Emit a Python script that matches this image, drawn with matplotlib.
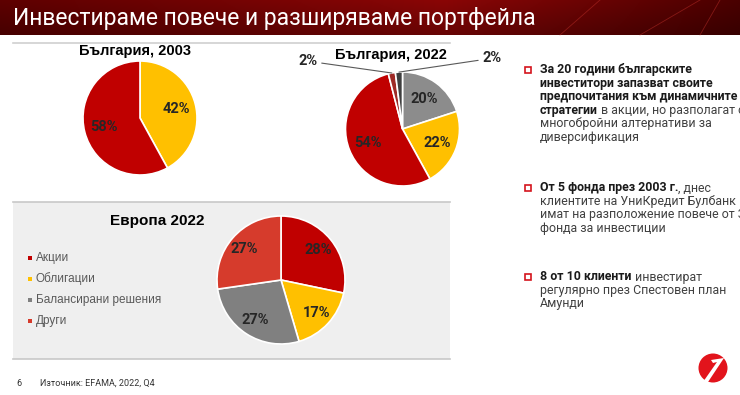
import numpy as np
import matplotlib
matplotlib.use("Agg")
import matplotlib.pyplot as plt
from matplotlib.patches import Rectangle, Circle, Polygon
from matplotlib.colors import to_rgb

W, H = 740, 395

# ---- data ----
title = "Инвестираме повече и разширяваме портфейла"

bg2003_title = "България, 2003"
bg2003_vals = [42, 58]
bg2003_cols = ["#FFC000", "#C00000"]

bg2022_title = "България, 2022"
bg2022_vals = [20, 22, 54, 2, 2]
bg2022_cols = ["#8C8C8C", "#FFC000", "#C00000", "#9E2A26", "#3F3F3F"]

eu_title = "Европа 2022"
eu_vals = [28, 17, 27, 27]
eu_cols = ["#C00000", "#FFC000", "#808080", "#D63B2C"]
legend_labels = ["Акции", "Облигации", "Балансирани решения", "Други"]

bullets = [
    [("За 20 години българските", ""),
     ("инвеститори запазват своите", ""),
     ("предпочитания към динамичните", ""),
     ("стратегии", "в акции, но разполагат с"),
     ("", "многобройни алтернативи за"),
     ("", "диверсификация")],
    [("От 5 фонда през 2003 г.", ", днес"),
     ("", "клиентите на УниКредит Булбанк"),
     ("", "имат на разположение повече от 30"),
     ("", "фонда за инвестиции")],
    [("8 от 10 клиенти", "инвестират"),
     ("", "регулярно през Спестовен план"),
     ("", "Амунди")],
]
bullet_top = [70, 188, 277]

source = "Източник: EFAMA, 2022, Q4"
page_no = "6"

TXT = ["Roboto", "DejaVu Sans"]
ARIAL = ["Liberation Sans", "DejaVu Sans"]

fig = plt.figure(figsize=(W / 100, H / 100), dpi=100)
renderer = fig.canvas.get_renderer()
bg = fig.add_axes([0, 0, 1, 1])
bg.set_xlim(0, W)
bg.set_ylim(H, 0)


def fit_size(text, width_px, weight="normal", family=TXT):
    # font size that makes `text` span width_px
    t = bg.text(0, 0, text, fontsize=10, fontweight=weight, family=family)
    w = t.get_window_extent(renderer).width
    t.remove()
    return 10 * width_px / w


# title banner gradient
xs = np.linspace(0, 1, 400)
left, mid, right = np.array(to_rgb("#5e0000")), np.array(to_rgb("#8a0606")), np.array(to_rgb("#4a0000"))
row = np.where(xs[:, None] < 0.6,
               left + (mid - left) * (xs[:, None] / 0.6),
               mid + (right - mid) * ((xs[:, None] - 0.6) / 0.4))
ys = np.linspace(0, 1, 40)[:, None, None]
grad = row[None, :, :] * (1.0 - 0.25 * ys)
bg.imshow(grad, extent=[0, W, 35, 0], aspect="auto", zorder=0)
for x0, x1 in [(640, 700), (700, 720), (560, 600)]:
    bg.plot([x0, x1], [35, 0], color="#c0302a", lw=0.6, alpha=0.5, zorder=1)
bg.text(13, 18, title, color="white", fontsize=fit_size(title, 524), family=TXT,
        va="center", ha="left")

# separators and grey box
bg.plot([13, 450], [43, 43], color="#d0d0d0", lw=1.2)
bg.add_patch(Rectangle((13, 202), 437, 157, facecolor="#efefef", edgecolor="none"))
bg.plot([13, 450], [202, 202], color="#c8c8c8", lw=1.2)
bg.plot([13, 450], [359, 359], color="#c8c8c8", lw=1.2)

bg.set_xlim(0, W)
bg.set_ylim(H, 0)
bg.axis("off")


def pie_axes(cx, cy, r):
    ax = fig.add_axes([(cx - r) / W, 1 - (cy + r) / H, 2 * r / W, 2 * r / H])
    return ax


def draw_pie(ax, vals, cols, pct_dist, show):
    wedges, _ = ax.pie(vals, colors=cols, startangle=90, counterclock=False,
                       wedgeprops=dict(edgecolor="white", linewidth=1.2))
    for w, v, s in zip(wedges, vals, show):
        if not s:
            continue
        a = np.deg2rad((w.theta1 + w.theta2) / 2)
        ax.text(pct_dist * np.cos(a), pct_dist * np.sin(a), f"{v}%", ha="center", va="center",
                fontsize=10.5, fontweight="bold", family=TXT, color="#262626")
    ax.set_xlim(-1, 1)
    ax.set_ylim(-1, 1)
    return wedges


# Bulgaria 2003
ax1 = pie_axes(140, 118, 57)
draw_pie(ax1, bg2003_vals, bg2003_cols, 0.66, [True, True])
bg.text(135, 51, bg2003_title, fontsize=10.5, fontweight="bold", family=ARIAL,
        ha="center", va="center", color="black")

# Bulgaria 2022
ax2 = pie_axes(402.5, 129, 57)
w2 = draw_pie(ax2, bg2022_vals, bg2022_cols, 0.65, [True, True, True, False, False])
bg.text(391, 55, bg2022_title, fontsize=10.5, fontweight="bold", family=ARIAL,
        ha="center", va="center", color="black")
for w, v, (tx, ty, ha) in zip(w2[3:], bg2022_vals[3:], [(-1.49, 1.19, "right"), (1.40, 1.24, "left")]):
    a = np.deg2rad((w.theta1 + w.theta2) / 2)
    ax2.annotate(f"{v}%", xy=(np.cos(a), np.sin(a)), xytext=(tx, ty), ha=ha, va="center",
                 fontsize=10.5, fontweight="bold", family=TXT, color="#262626",
                 arrowprops=dict(arrowstyle="-", color="#595959", lw=0.8, shrinkA=1, shrinkB=0),
                 annotation_clip=False)

# Europe 2022
ax3 = pie_axes(281, 280, 64)
draw_pie(ax3, eu_vals, eu_cols, 0.75, [True] * 4)
bg.text(157, 221, eu_title, fontsize=11, fontweight="bold", family=ARIAL,
        ha="center", va="center", color="black")
for i, (lab, c) in enumerate(zip(legend_labels, eu_cols)):
    y = 258 + i * 21
    bg.add_patch(Rectangle((28, y - 2), 4, 4, facecolor=c, edgecolor="none"))
    bg.text(36, y, lab, fontsize=8.5, family=ARIAL, color="#595959", va="center", ha="left")

# right-hand bullet text, sized so the widest bold line spans ~200 px
fs = fit_size("предпочитания към динамичните", 200, weight="bold")
for top, lines in zip(bullet_top, bullets):
    bg.add_patch(Rectangle((525, top - 3.5), 6, 6, facecolor="white", edgecolor="#d4141c", lw=1.2))
    for j, (b, n) in enumerate(lines):
        y = top + j * 13.4
        if b:
            t = bg.text(540, y, b, fontsize=fs, fontweight="bold", family=TXT, color="#1a1a1a",
                        va="center", ha="left")
            if n:
                gap = 0 if n.startswith(",") else 2.5
                bg.annotate(n, xy=(1, 0.5), xycoords=t, xytext=(gap, 0), textcoords="offset points",
                            va="center", ha="left", fontsize=fs, family=TXT, color="#404040")
        else:
            bg.text(540, y, n, fontsize=fs, family=TXT, color="#404040", va="center", ha="left")

# footer
bg.text(16, 383, page_no, fontsize=6.5, family=TXT, color="#333333", va="center")
bg.text(40, 383, source, fontsize=6.5, family=TXT, color="#333333", va="center")
bg.add_patch(Circle((713, 368), 14.5, facecolor="#e2141c", edgecolor="none"))
bg.add_patch(Polygon([(703, 382), (708, 382), (724, 358), (711, 360), (713, 363), (717, 362)],
                     closed=True, facecolor="white", edgecolor="none"))

fig.savefig("out.png", dpi=100, facecolor="white")
